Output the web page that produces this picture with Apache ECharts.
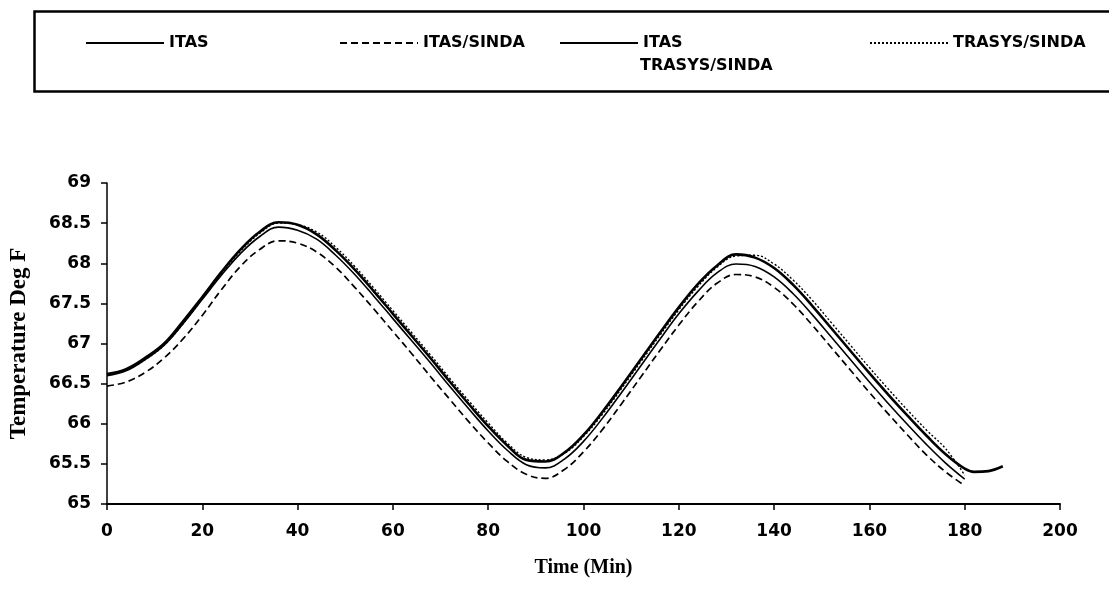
<!DOCTYPE html>
<html>
<head>
<meta charset="utf-8">
<script src="https://cdn.jsdelivr.net/npm/echarts@6/dist/echarts.min.js"></script>
<style>
html,body{margin:0;padding:0;background:#fff;}
#chart{width:1109px;height:592px;}
</style>
</head>
<body>
<div id="chart"></div>
<script>
// ---- data ----
const times = [0,4,8,12,16,20,24,28,32,36,40,44,48,52,56,60,64,68,72,76,80,84,88,92,96,100,104,108,112,116,120,124,128,132,136,140,144,148,152,156,160,164,168,172,176,180];

const itas = [66.62,66.68,66.82,67.00,67.28,67.58,67.89,68.17,68.39,68.51,68.48,68.36,68.16,67.92,67.65,67.37,67.09,66.81,66.52,66.24,65.97,65.73,65.55,65.53,65.64,65.86,66.15,66.47,66.80,67.13,67.45,67.74,67.97,68.11,68.07,67.94,67.73,67.47,67.19,66.91,66.63,66.36,66.10,65.85,65.62,65.44];
const itasTailTimes = [182,185,188];
const itasTail = [65.40,65.41,65.47];

const itasSinda = [66.47,66.52,66.64,66.82,67.06,67.35,67.67,67.96,68.17,68.28,68.25,68.14,67.95,67.70,67.43,67.15,66.87,66.58,66.30,66.02,65.76,65.53,65.37,65.32,65.43,65.65,65.93,66.25,66.58,66.91,67.23,67.52,67.75,67.86,67.83,67.70,67.49,67.23,66.95,66.67,66.39,66.12,65.86,65.61,65.40,65.23];

const itasTrasysSinda = [66.60,66.66,66.80,66.98,67.25,67.55,67.85,68.12,68.33,68.45,68.41,68.30,68.10,67.86,67.59,67.31,67.03,66.75,66.46,66.18,65.91,65.67,65.49,65.45,65.56,65.78,66.07,66.39,66.72,67.05,67.37,67.65,67.88,67.99,67.96,67.83,67.62,67.36,67.08,66.80,66.52,66.25,65.99,65.74,65.51,65.31];

const trasysSinda = [66.62,66.67,66.80,66.98,67.25,67.56,67.87,68.15,68.37,68.50,68.48,68.39,68.20,67.96,67.69,67.41,67.13,66.85,66.56,66.28,66.01,65.76,65.58,65.55,65.63,65.84,66.12,66.44,66.77,67.10,67.42,67.71,67.95,68.09,68.10,67.99,67.79,67.54,67.26,66.98,66.70,66.43,66.17,65.92,65.69,65.36];

const seriesNames = ['ITAS','ITAS/SINDA','ITAS TRASYS/SINDA','TRASYS/SINDA'];
const xTicks = [0,20,40,60,80,100,120,140,160,180,200];
const yTicks = [65,65.5,66,66.5,67,67.5,68,68.5,69];

function pairs(xs, ys){ return xs.map((x,i)=>[x, ys[i]]); }

const chart = echarts.init(document.getElementById('chart'), null, {renderer:'canvas'});

const labelFont = {fontFamily:'DejaVu Sans', fontWeight:'bold', fontSize:17, color:'#000'};
const legendText = {fontFamily:'DejaVu Sans', fontWeight:'bold', fontSize:16, color:'#000'};

function legendAt(name, left){
  return {
    data:[name], left:left, top:30, orient:'horizontal',
    itemWidth:78, itemHeight:14, itemGap:8,
    itemStyle:{opacity:0},
    textStyle:legendText, selectedMode:false
  };
}

const option = {
  backgroundColor:'#fff',
  animation:false,
  graphic:[
    {type:'rect', left:32, top:9, shape:{x:0,y:0,width:1090,height:80},
     style:{fill:'none', stroke:'#000', lineWidth:2.5}, z:100},
    {type:'text', left:640, top:58, style:{text:'TRASYS/SINDA', font:'bold 16px "DejaVu Sans"', fill:'#000'}}
  ],
  legend:[
    legendAt(seriesNames[0], 80),
    legendAt(seriesNames[1], 334),
    {...legendAt(seriesNames[2], 554), formatter:function(){return 'ITAS';}},
    legendAt(seriesNames[3], 864)
  ],
  grid:{left:96, right:49, top:183, bottom:88, containLabel:false},
  xAxis:{
    type:'value', min:0, max:200, interval:20,
    name:'Time (Min)', nameLocation:'middle', nameGap:54,
    nameTextStyle:{fontFamily:'Liberation Serif', fontWeight:'bold', fontSize:20, color:'#000'},
    axisLine:{show:true, lineStyle:{color:'#000', width:2}},
    axisTick:{show:true, length:6, lineStyle:{color:'#000', width:1.5}},
    axisLabel:{...labelFont, margin:19, formatter:function(v){return xTicks.indexOf(v)>=0 ? String(v) : '';}},
    splitLine:{show:false}
  },
  yAxis:{
    type:'value', min:65, max:69, interval:0.5,
    name:'Temperature Deg F', nameLocation:'middle', nameGap:76, nameRotate:90,
    nameTextStyle:{fontFamily:'Liberation Serif', fontWeight:'bold', fontSize:23, color:'#000'},
    axisLine:{show:true, onZero:false, lineStyle:{color:'#000', width:1.5}},
    axisTick:{show:true, length:6, lineStyle:{color:'#000', width:1.5}},
    axisLabel:{...labelFont, margin:16, formatter:function(v){return yTicks.indexOf(v)>=0 ? String(v) : '';}},
    splitLine:{show:false}
  },
  series:[
    {name:seriesNames[0], type:'line', smooth:0.4, symbol:'none',
     data:pairs(times.concat(itasTailTimes), itas.concat(itasTail)),
     lineStyle:{color:'#000', width:2.6, type:'solid'}, itemStyle:{color:'#000'}, z:5},
    {name:seriesNames[1], type:'line', smooth:0.4, symbol:'none',
     data:pairs(times, itasSinda),
     lineStyle:{color:'#000', width:1.7, type:[7,4]}, itemStyle:{color:'#000'}, z:4},
    {name:seriesNames[2], type:'line', smooth:0.4, symbol:'none',
     data:pairs(times, itasTrasysSinda),
     lineStyle:{color:'#000', width:1.6, type:'solid'}, itemStyle:{color:'#000'}, z:3},
    {name:seriesNames[3], type:'line', smooth:0.4, symbol:'none',
     data:pairs(times, trasysSinda),
     lineStyle:{color:'#000', width:1.4, type:[2,2]}, itemStyle:{color:'#000'}, z:6}
  ]
};
chart.setOption(option);
</script>
</body>
</html>
